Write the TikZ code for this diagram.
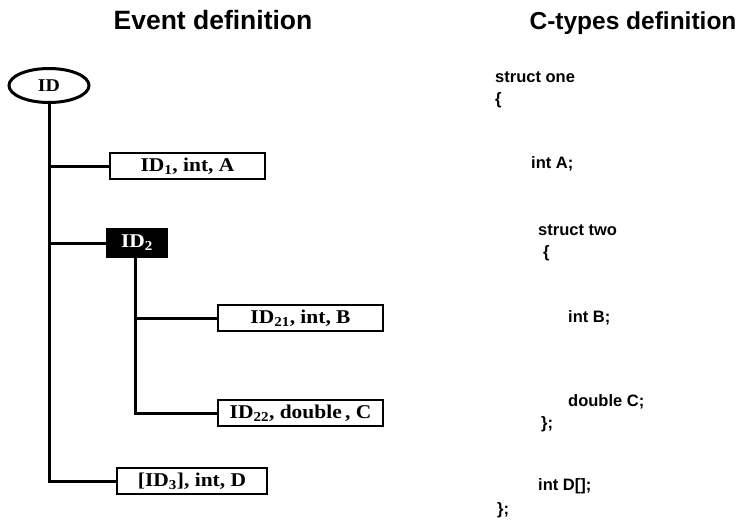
\documentclass[tikz,border=0pt]{standalone}
\usepackage{fontspec}
\setmainfont{Liberation Serif}
\newfontfamily\codefont{Liberation Sans}
\newfontfamily\boxfont[FakeStretch=1.1]{Liberation Serif}
\usetikzlibrary{shapes.geometric}

\tikzset{
  title/.style={font=\codefont\bfseries\fontsize{26.5}{30}\selectfont, anchor=base},
  code/.style={font=\codefont\bfseries\fontsize{16.5}{19}\selectfont, anchor=west, inner sep=0pt},
  field/.style={draw, line width=2.8pt, rectangle, inner sep=0pt, minimum height=26pt,
    font=\boxfont\bfseries\fontsize{19.5}{22}\selectfont},
  group/.style={field, fill=black, text=white, minimum height=27pt},
  root/.style={draw, line width=3pt, ellipse, inner sep=0pt, minimum width=80pt, minimum height=34pt,
    font=\boxfont\bfseries\fontsize{18}{21}\selectfont},
  tree/.style={line width=3pt}
}

\begin{document}
\begin{tikzpicture}[x=1pt, y=-1pt]
  \useasboundingbox (0,0) rectangle (743,520);

  % column headings
  \node[title] (h1) at (213,29) {Event definition};
  \node[title, font=\codefont\bfseries\fontsize{24.5}{28}\selectfont] (h2) at (633,29) {C-types definition};

  % event tree
  \node[root] (id) at (49,85.5) {ID};
  \node[field, minimum width=155pt] (f1) at (187.5,166) {ID\textsubscript{1}, int, A};
  \node[group, minimum width=60pt] (f2) at (137,243) {ID\textsubscript{2}};
  \node[field, minimum width=165pt] (f21) at (300.5,318) {ID\textsubscript{21}, int, B};
  \node[field, minimum width=165pt] (f22) at (300.5,413) {ID\textsubscript{22}, double\,, C};
  \node[field, minimum width=150pt] (f3) at (192,481) {[ID\textsubscript{3}], int, D};

  \draw[tree] (id.south) |- (f3.west);
  \draw[tree] (id.south |- f1.west) -- (f1.west);
  \draw[tree] (id.south |- f2.west) -- (f2.west);
  \coordinate (sub) at ([xshift=-2pt]f2.south);
  \draw[tree] (sub) |- (f22.west);
  \draw[tree] (sub |- f21.west) -- (f21.west);

  % C declarations
  \node[code] (c1) at (495,77) {struct one};
  \node[code] (c2) at (495,100) {\{};
  \node[code] (c3) at (531,164) {int A;};
  \node[code] (c4) at (538,230) {struct two};
  \node[code] (c5) at (543,253) {\{};
  \node[code] (c6) at (568,318) {int B;};
  \node[code] (c7) at (568,402) {double C;};
  \node[code] (c8) at (541,424) {\};};
  \node[code] (c9) at (538,486) {int D[];};
  \node[code] (c10) at (497,510) {\};};
\end{tikzpicture}
\end{document}
